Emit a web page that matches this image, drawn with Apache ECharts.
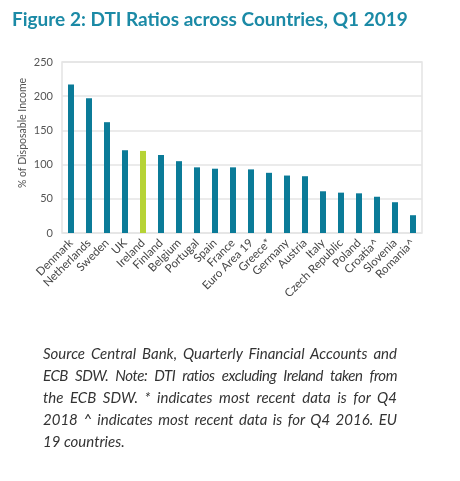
<!DOCTYPE html>
<html><head><meta charset="utf-8">
<script src="https://cdn.jsdelivr.net/npm/echarts@6/dist/echarts.min.js"></script>
<style>html,body{margin:0;padding:0;background:#fff;}#c{width:460px;height:481px;}
#cap{position:absolute;left:43px;top:342px;width:354px;font-family:Lato;font-style:italic;font-size:15px;color:#333;line-height:22px;}
#cap div{text-align:justify;text-align-last:justify;white-space:nowrap;}
#cap div.last{text-align-last:left;}
</style>
</head><body><div id="c"></div><div id="cap"></div>
<script>
const categories = ["Denmark","Netherlands","Sweden","UK","Ireland","Finland","Belgium","Portugal","Spain","France","Euro Area 19","Greece*","Germany","Austria","Italy","Czech Republic","Poland","Croatia^","Slovenia","Romania^"];
const values = [217,197,162,121,120,114,105,96,94,96,93,88,84,83,61,59,58,53,45,26];
const highlight = "Ireland";
const yTicks = {min:0,max:250,interval:50};
const titleText = "Figure 2: DTI Ratios across Countries, Q1 2019";
const yName = "% of Disposable Income";
const captionLines = [
 "Source Central Bank, Quarterly Financial Accounts and",
 "ECB SDW. Note: DTI ratios excluding Ireland taken from",
 "the ECB SDW. * indicates most recent data is for Q4",
 "2018 ^ indicates most recent data is for Q4 2016. EU",
 "19 countries."
];
const cap = document.getElementById('cap');
captionLines.forEach((t,i)=>{const d=document.createElement('div');d.textContent=t;
  if(i===captionLines.length-1)d.className='last';
  if(i===1)d.style.letterSpacing='-0.45px';
  cap.appendChild(d);});
const chart = echarts.init(document.getElementById('c'));
chart.setOption({
  animation:false,
  title:{text:titleText,left:7,top:5,textStyle:{fontFamily:'Lato',fontWeight:'bold',fontSize:19,color:'#1b8aa6'}},
  grid:{left:62,right:38,top:62,bottom:248,show:true,borderColor:'#e4e4e4',borderWidth:1.5},
  xAxis:{type:'category',data:categories,
    axisLine:{show:false},axisTick:{show:false},
    axisLabel:{rotate:45,interval:0,fontFamily:'Lato',fontSize:11.5,color:'#444',margin:8}},
  yAxis:{type:'value',min:yTicks.min,max:yTicks.max,interval:yTicks.interval,
    axisLine:{show:false},axisTick:{show:false},
    axisLabel:{fontFamily:'Lato',fontSize:11,color:'#555',margin:9},
    splitLine:{lineStyle:{color:'#e4e4e4',width:1.5}}},
  graphic:[{type:'text',x:23,y:133,rotation:Math.PI/2,
    style:{text:yName,font:'10.5px Lato',fill:'#555',align:'center',verticalAlign:'middle'}}],
  series:[{type:'bar',barWidth:6,
    data:values.map((v,i)=>({value:v,itemStyle:{color:categories[i]===highlight?'#b6d335':'#0b7b98'}}))}]
});
</script></body></html>
